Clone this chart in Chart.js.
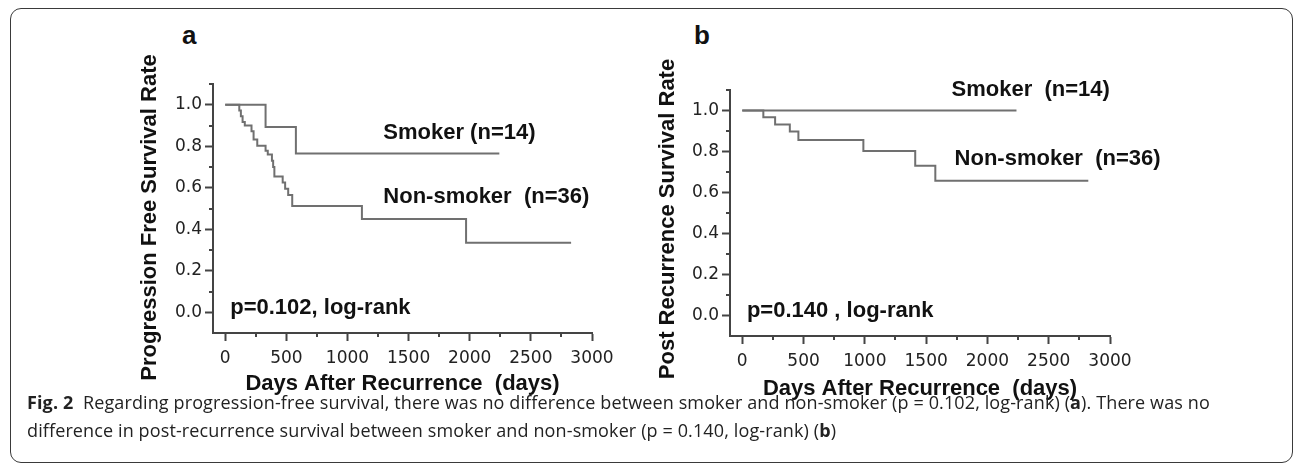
<!DOCTYPE html>
<html>
<head>
<meta charset="utf-8">
<script src="https://cdn.jsdelivr.net/npm/chart.js@4.4.0/dist/chart.umd.min.js"></script>
<style>
    html, body { margin: 0; padding: 0; background: #fff; }
    body { width: 1298px; height: 467px; position: relative; overflow: hidden; }
    .frame {
        position: absolute; left: 10px; top: 8px; width: 1283px; height: 455px;
        border: 1px solid #3a3a3a; border-radius: 11px; box-sizing: border-box;
    }
    .panel { position: absolute; }
    .letter {
        position: absolute; font: bold 26px "Liberation Sans", Arial, sans-serif; color: #111;
    }
    #caption {
        position: absolute; left: 27px; top: 388px; white-space: nowrap;
        font: 18px/28px "Open Sans", sans-serif; letter-spacing: 0.12px; color: #222;
    }
    #caption b { font-weight: 700; }
</style>
</head>
<body>
<div class="frame"></div>
<div class="letter" style="left:182px; top:20px;">a</div>
<div class="letter" style="left:694px; top:20px;">b</div>
<canvas id="chart-a" class="panel" style="left:100px; top:0px;" width="540" height="410"></canvas>
<canvas id="chart-b" class="panel" style="left:620px; top:0px;" width="540" height="415"></canvas>
<div id="caption"><b>Fig. 2</b>&nbsp; Regarding progression-free survival, there was no difference between smoker and non-smoker (p = 0.102, log-rank) (<b>a</b>). There was no<br>difference in post-recurrence survival between smoker and non-smoker (p = 0.140, log-rank) (<b>b</b>)</div>

<script>
// Panel a: progression free survival (Kaplan-Meier steps)
const pfsSmokerDays = [0, 330, 578, 2242];
const pfsSmokerRate = [1.0, 0.893, 0.765, 0.765];
const pfsNonSmokerDays = [0, 115, 128, 142, 160, 215, 232, 262, 330, 348, 382, 392, 402, 470, 490, 515, 548, 1118, 1970, 2829];
const pfsNonSmokerRate = [1.0, 0.972, 0.944, 0.917, 0.900, 0.872, 0.833, 0.803, 0.778, 0.760, 0.730, 0.700, 0.654, 0.625, 0.595, 0.565, 0.512, 0.449, 0.335, 0.335];

// Panel b: post recurrence survival
const prsSmokerDays = [0, 2237];
const prsSmokerRate = [1.0, 1.0];
const prsNonSmokerDays = [0, 172, 268, 388, 458, 988, 1411, 1575, 2823];
const prsNonSmokerRate = [1.0, 0.967, 0.932, 0.897, 0.856, 0.803, 0.730, 0.657, 0.657];

// Axes
const xTicks = [0, 500, 1000, 1500, 2000, 2500, 3000];
const xMinorTicks = [250, 750, 1250, 1750, 2250, 2750];
const yTicks = [0.0, 0.2, 0.4, 0.6, 0.8, 1.0];
const yMinorTicks = [0.1, 0.3, 0.5, 0.7, 0.9, 1.1];

const AXIS_COLOR = '#444';
const LINE_COLOR = '#707070';
const BOLD = '"Liberation Sans", Arial, sans-serif';
const TICK_FONT = { family: '"DejaVu Sans", Verdana, sans-serif', size: 17 };

function toPoints(days, rates) {
    return days.map((d, i) => ({ x: d, y: rates[i] }));
}

// minor tick marks, Prism style
const minorTicks = {
    id: 'minorTicks',
    afterDraw(chart) {
        const { ctx, chartArea, scales: { x, y } } = chart;
        ctx.save();
        ctx.strokeStyle = AXIS_COLOR;
        ctx.lineWidth = 2;
        ctx.beginPath();
        xMinorTicks.forEach(v => {
            const px = Math.round(x.getPixelForValue(v));
            ctx.moveTo(px, chartArea.bottom);
            ctx.lineTo(px, chartArea.bottom + 4);
        });
        yMinorTicks.forEach(v => {
            const py = Math.round(y.getPixelForValue(v));
            ctx.moveTo(chartArea.left - 4, py);
            ctx.lineTo(chartArea.left, py);
        });
        ctx.stroke();
        ctx.restore();
    }
};

// text placed in data coordinates, plus the rotated y title
const annotations = {
    id: 'annotations',
    afterDraw(chart, args, opts) {
        const { ctx, chartArea, scales: { x, y } } = chart;
        ctx.save();
        ctx.fillStyle = '#111';
        ctx.textAlign = 'left';
        ctx.textBaseline = 'middle';
        ctx.font = 'bold 22px ' + BOLD;
        opts.items.forEach(t => {
            ctx.fillText(t.text, x.getPixelForValue(t.x), y.getPixelForValue(t.y));
        });
        // y title sits a little below the middle of the axis in the original
        ctx.translate(opts.yTitleX, (chartArea.top + chartArea.bottom) / 2 + opts.yTitleShift);
        ctx.rotate(-Math.PI / 2);
        ctx.textAlign = 'center';
        ctx.fillText(opts.yTitle, 0, 0);
        ctx.restore();
    }
};

function makePanel(id, series, yTitle, labels, pad) {
    const ctx = document.getElementById(id);
    return new Chart(ctx, {
        type: 'line',
        data: {
            datasets: series.map(s => ({
                data: toPoints(s[0], s[1]),
                stepped: true,
                borderColor: LINE_COLOR,
                borderWidth: 2,
                pointRadius: 0,
                fill: false
            }))
        },
        options: {
            responsive: false,
            animation: false,
            events: [],
            layout: { padding: { left: pad.left, top: pad.top, right: pad.right, bottom: 0 } },
            plugins: {
                legend: { display: false },
                tooltip: { enabled: false },
                annotations: { items: labels, yTitle: yTitle, yTitleX: pad.yTitleX, yTitleShift: pad.yTitleShift }
            },
            scales: {
                x: {
                    type: 'linear',
                    min: -100,
                    max: 3000,
                    afterBuildTicks: s => { s.ticks = xTicks.map(v => ({ value: v })); },
                    afterFit: s => { s.height = pad.xHeight; },
                    border: { color: AXIS_COLOR, width: 2 },
                    grid: { drawOnChartArea: false, tickLength: 8, tickColor: AXIS_COLOR, tickWidth: 2 },
                    ticks: { color: '#222', font: TICK_FONT, padding: 7, maxRotation: 0, callback: v => String(v) },
                    title: {
                        display: true,
                        text: 'Days After Recurrence  (days)',
                        color: '#111',
                        font: { family: BOLD, size: 22, weight: 'bold' },
                        padding: { top: 0, bottom: pad.xTitle }
                    }
                },
                y: {
                    type: 'linear',
                    min: -0.1,
                    max: 1.1,
                    afterBuildTicks: s => { s.ticks = yTicks.map(v => ({ value: v })); },
                    afterFit: s => { s.width = pad.yWidth; },
                    border: { color: AXIS_COLOR, width: 2 },
                    grid: { drawOnChartArea: false, tickLength: 8, tickColor: AXIS_COLOR, tickWidth: 2 },
                    ticks: { color: '#222', font: TICK_FONT, padding: 3, callback: v => v.toFixed(1) },
                    title: { display: false }
                }
            }
        },
        plugins: [minorTicks, annotations]
    });
}

makePanel('chart-a',
    [[pfsSmokerDays, pfsSmokerRate], [pfsNonSmokerDays, pfsNonSmokerRate]],
    'Progression Free Survival Rate',
    [
        { text: 'Smoker (n=14)', x: 1293, y: 0.865 },
        { text: 'Non-smoker  (n=36)', x: 1293, y: 0.556 },
        { text: 'p=0.102, log-rank', x: 41, y: 0.019 }
    ],
    { left: 37, top: 84, right: 48, yWidth: 76, xHeight: 77, xTitle: 13, yTitleX: 50, yTitleShift: 9 }
);

makePanel('chart-b',
    [[prsSmokerDays, prsSmokerRate], [prsNonSmokerDays, prsNonSmokerRate]],
    'Post Recurrence Survival Rate',
    [
        { text: 'Smoker  (n=14)', x: 1707, y: 1.098 },
        { text: 'Non-smoker  (n=36)', x: 1732, y: 0.766 },
        { text: 'p=0.140 , log-rank', x: 38, y: 0.024 }
    ],
    { left: 35, top: 90, right: 50, yWidth: 75, xHeight: 79, xTitle: 13, yTitleX: 48, yTitleShift: 6 }
);
</script>
</body>
</html>
